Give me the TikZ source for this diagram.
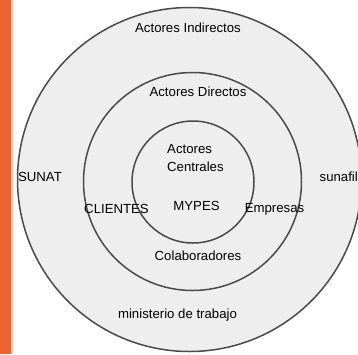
\documentclass[tikz,border=0pt]{standalone}
\usepackage{fontspec}
\setmainfont{Liberation Sans}
\definecolor{barra}{HTML}{EE6336}
\definecolor{barraclara}{HTML}{F7C4AE}
\definecolor{anillo}{HTML}{EEEEEE}
\definecolor{borde}{HTML}{4A4A4A}
\tikzset{
	anillo/.style={fill=anillo, draw=borde, line width=1.5pt},
	etiqueta/.style={inner sep=0pt, font=\fontsize{13.2}{18}\selectfont}
}
\begin{document}
\begin{tikzpicture}[x=1pt, y=-1pt]
	\useasboundingbox (0, 0) rectangle (358, 354);
	\fill[barra] (0, 0) rectangle (11, 354);
	\fill[barraclara] (11, 0) rectangle (13, 354);
	% tres anillos de actores
	\filldraw[anillo] (189.5, 179.5) circle (172);
	\filldraw[anillo] (192.5, 181.5) circle (109);
	\filldraw[anillo] (193, 182) circle (61);
	% textos
	\node[etiqueta] (indirectos) at (188, 28) {Actores Indirectos};
	\node[etiqueta] (directos) at (198, 92) {Actores Directos};
	\node[etiqueta, anchor=west, align=left] (centrales) at (167, 158) {Actores\\Centrales};
	\node[etiqueta] (mypes) at (196.5, 206) {MYPES};
	\node[etiqueta] (clientes) at (116.5, 209) {CLIENTES};
	\node[etiqueta] (empresas) at (274.5, 209) {Empresas};
	\node[etiqueta] (colaboradores) at (198, 256) {Colaboradores};
	\node[etiqueta] (sunat) at (40, 177) {SUNAT};
	\node[etiqueta, anchor=west] (sunafil) at (319.5, 177) {sunafil};
	\node[etiqueta] (ministerio) at (177.5, 315) {ministerio de trabajo};
\end{tikzpicture}
\end{document}
